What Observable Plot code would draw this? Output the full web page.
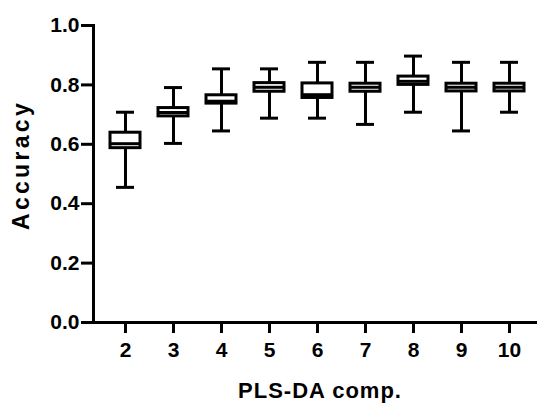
<!DOCTYPE html>
<html>
<head>
<meta charset="utf-8">
<script src="https://cdn.jsdelivr.net/npm/d3@7"></script>
<script src="https://cdn.jsdelivr.net/npm/@observablehq/plot@0.6"></script>
<style>
  html, body { margin: 0; padding: 0; background: #fff; }
  #chart svg [aria-label="y-axis tick"], #chart svg [aria-label="x-axis tick"] { stroke-width: 3px; }
</style>
</head>
<body>
<div id="chart"></div>
<script>
// PLS-DA components
const comps = [2, 3, 4, 5, 6, 7, 8, 9, 10];
// five-number summaries of accuracy
const minVals    = [0.455, 0.603, 0.645, 0.688, 0.688, 0.667, 0.708, 0.645, 0.708];
const q1Vals     = [0.587, 0.694, 0.737, 0.777, 0.756, 0.777, 0.800, 0.778, 0.778];
const medianVals = [0.602, 0.707, 0.745, 0.792, 0.767, 0.792, 0.812, 0.792, 0.792];
const q3Vals     = [0.639, 0.722, 0.765, 0.806, 0.805, 0.804, 0.828, 0.804, 0.804];
const maxVals    = [0.708, 0.791, 0.854, 0.854, 0.876, 0.876, 0.897, 0.876, 0.876];
const yTicks = [0, 0.2, 0.4, 0.6, 0.8, 1.0];
const yLabel = "Accuracy";
const xLabel = "PLS-DA comp.";

const data = comps.map((c, i) => ({
  comp: c, min: minVals[i], q1: q1Vals[i], median: medianVals[i], q3: q3Vals[i], max: maxVals[i]
}));

const sw = 3;
const chart = Plot.plot({
  width: 537,
  height: 403,
  marginTop: 25,
  marginBottom: 81,
  marginLeft: 93,
  marginRight: 1,
  style: { fontFamily: "'Liberation Sans', Arial, Helvetica, sans-serif", fontSize: "21px", fontWeight: "bold", color: "#000", background: "#fff" },
  x: { type: "band", domain: comps, range: [101, 533], paddingInner: 0.375, paddingOuter: 0.1875 },
  y: { domain: [0, 1] },
  marks: [
    Plot.ruleX(data, { x: "comp", y1: "min", y2: "max", stroke: "#000", strokeWidth: sw }),
    Plot.tickY(data, { x: "comp", y: "min", stroke: "#000", strokeWidth: sw, insetLeft: 6, insetRight: 6 }),
    Plot.tickY(data, { x: "comp", y: "max", stroke: "#000", strokeWidth: sw, insetLeft: 6, insetRight: 6 }),
    Plot.barY(data, { x: "comp", y1: "q1", y2: "q3", fill: "#fff", stroke: "#000", strokeWidth: sw }),
    Plot.tickY(data, { x: "comp", y: "median", stroke: "#000", strokeWidth: sw }),
    Plot.frame({ anchor: "left", stroke: "#000", strokeWidth: sw }),
    Plot.frame({ anchor: "bottom", stroke: "#000", strokeWidth: sw }),
    Plot.axisY({ ticks: yTicks, tickFormat: d3.format(".1f"), tickSize: 12, tickPadding: 2, strokeWidth: sw, label: null }),
    Plot.axisX({ ticks: comps, tickSize: 11, tickPadding: 9, strokeWidth: sw, label: null }),
    Plot.text([yLabel], { text: d => d, frameAnchor: "left", textAnchor: "middle", rotate: -90, dx: -72, dy: -9,
                          fontSize: 23, fontWeight: "bold", fill: "#000" }),
    Plot.text([xLabel], { text: d => d, frameAnchor: "bottom", textAnchor: "middle", lineAnchor: "bottom", dx: 5, dy: 75,
                          fontSize: 22, fontWeight: "bold", fill: "#000" })
  ]
});
d3.select(chart).selectAll("text").filter(function () { return this.textContent === yLabel; })
  .style("letter-spacing", "3.3px");
d3.select(chart).selectAll("text").filter(function () { return this.textContent === xLabel; })
  .style("letter-spacing", "1px");
document.getElementById("chart").appendChild(chart);
</script>
</body>
</html>
